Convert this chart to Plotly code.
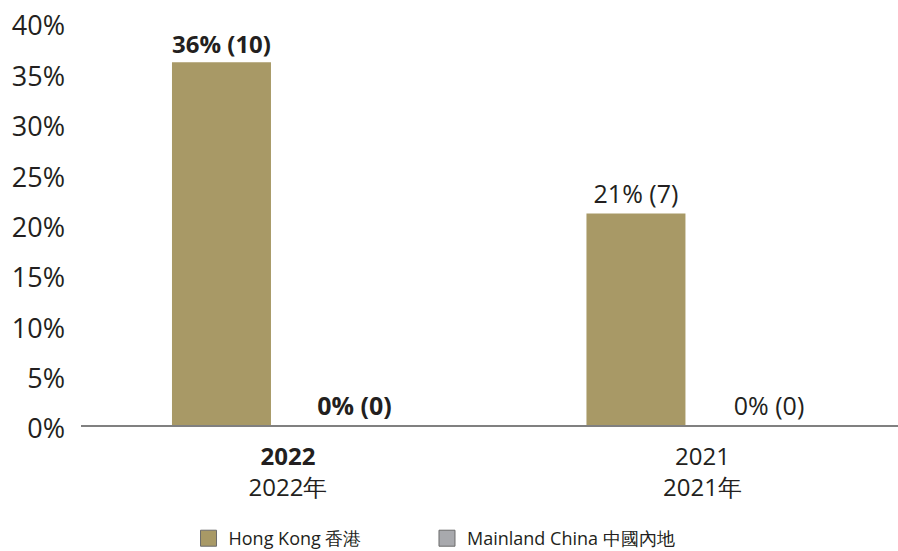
import plotly.graph_objects as go

categories = ["2022", "2021"]
tick_text = ["<b>2022</b><br>2022年", "2021<br>2021年"]
hk_values = [36, 21]
hk_counts = [10, 7]
mc_values = [0, 0]
mc_counts = [0, 0]
bold_flags = [True, False]
series_names = ["Hong Kong 香港", "Mainland China 中國內地"]

def labels(vals, counts):
    out = []
    for v, c, b in zip(vals, counts, bold_flags):
        s = f"{v}% ({c})"
        out.append(f"<b>{s}</b>" if b else s)
    return out

HK_COLOR = "#A89966"
MC_COLOR = "#A8A9AD"
TEXT = "#231F20"
FONT = "Open Sans"

W, H = 898, 551
L, R, T, B = 81, 0, 22, 122
PH = H - T - B
SHIFT = 4

fig = go.Figure()
for name, vals, counts, color in [
    (series_names[0], hk_values, hk_counts, HK_COLOR),
    (series_names[1], mc_values, mc_counts, MC_COLOR),
]:
    fig.add_trace(go.Bar(
        name=name, x=categories, y=vals, showlegend=False,
        marker=dict(color=color, line=dict(width=0)),
        text=labels(vals, counts), textposition="outside",
        textfont=dict(family=FONT, size=25, color=TEXT), cliponaxis=False,
    ))

legend_ids = ["legend", "legend2"]
for name, color, lid in zip(series_names, [HK_COLOR, MC_COLOR], legend_ids):
    fig.add_trace(go.Scatter(
        name=name, x=[None], y=[None], xaxis="x2", yaxis="y2", mode="markers",
        marker=dict(symbol="square", size=16, color=color,
                    line=dict(width=1, color="#6b6b6b")),
        showlegend=True, legend=lid,
    ))

leg_common = dict(
    orientation="h", xanchor="left", y=-0.2236, yanchor="top",
    font=dict(family=FONT, size=18, color=TEXT),
    itemsizing="trace", bgcolor="rgba(0,0,0,0)",
)
fig.update_layout(
    width=W, height=H,
    margin=dict(l=L, r=R, t=T, b=B, autoexpand=False),
    paper_bgcolor="white", plot_bgcolor="rgba(0,0,0,0)",
    barmode="group", bargap=0.358, bargroupgap=0.256,
    font=dict(family=FONT, color=TEXT),
    legend=dict(x=0.1316, **leg_common),
    legend2=dict(x=0.4235, **leg_common),
    showlegend=True,
)
fig.update_layout(
    xaxis=dict(
        type="category", tickvals=categories, ticktext=tick_text,
        range=[-0.4994, 1.4717], showgrid=False, zeroline=False,
        showline=True, linecolor="#808080", linewidth=1.5,
        tickfont=dict(family=FONT, size=24, color=TEXT), ticks="",
        automargin=False, ticklabelstandoff=9, anchor="y",
    ),
    yaxis=dict(
        range=[0, 40], domain=[SHIFT / PH, 1], showgrid=False,
        zeroline=False, showline=False, showticklabels=False, ticks="",
        automargin=False, anchor="x",
    ),
    xaxis2=dict(
        range=[0, 1], domain=[0, 1], visible=False, anchor="y2",
        automargin=False,
    ),
    yaxis2=dict(
        range=[0, 40], domain=[0, 1 - SHIFT / PH], dtick=5, ticksuffix="%",
        showgrid=False, zeroline=False, showline=False, ticks="",
        ticklabelstandoff=15, automargin=False, anchor="x2",
        tickfont=dict(family=FONT, size=27, color=TEXT),
    ),
)

fig.write_html(
    "out.html",
    config={"displayModeBar": False},
    post_script="document.body.style.margin='0';document.body.style.overflow='hidden';",
)
